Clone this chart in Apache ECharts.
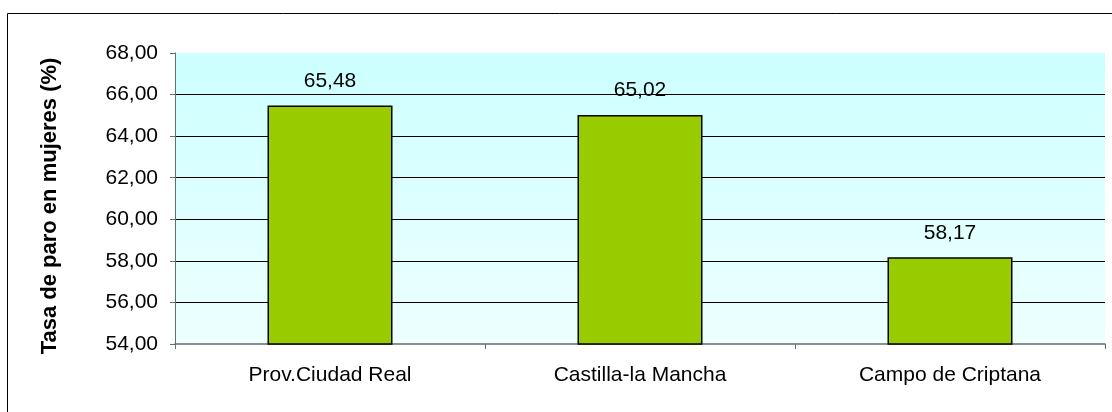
<!DOCTYPE html>
<html>
<head>
<meta charset="utf-8">
<script src="https://cdn.jsdelivr.net/npm/echarts@6/dist/echarts.min.js"></script>
<style>
  html, body { margin: 0; padding: 0; background: #fff; }
  #chart { width: 1112px; height: 412px; }
</style>
</head>
<body>
<div id="chart"></div>
<script>
// datos
const categories = ['Prov.Ciudad Real', 'Castilla-la Mancha', 'Campo de Criptana']
const tasaParo = [65.48, 65.02, 58.17]
const yMin = 54
const yMax = 68
const yStep = 2
const yTitle = 'Tasa de paro en mujeres (%)'

const fmt = v => Number(v).toFixed(2).replace('.', ',')
const font = '"Liberation Sans", Arial, sans-serif'

const chart = echarts.init(document.getElementById('chart'))
chart.setOption({
  backgroundColor: '#fff',
  animation: false,
  graphic: [
    // marco exterior (solo se ven los bordes izquierdo y superior)
    { type: 'line', shape: { x1: 7.5, y1: 13.5, x2: 1112, y2: 13.5 }, style: { stroke: '#000', lineWidth: 1 } },
    { type: 'line', shape: { x1: 7.5, y1: 13.5, x2: 7.5, y2: 412 }, style: { stroke: '#000', lineWidth: 1 } },
    // titulo del eje Y
    {
      type: 'text', x: 50, y: 206, rotation: Math.PI / 2,
      style: {
        text: yTitle, fill: '#000', font: 'bold 22px ' + font,
        align: 'center', verticalAlign: 'middle'
      }
    }
  ],
  grid: {
    left: 175, right: 7, top: 53, bottom: 68,
    show: true,
    borderWidth: 0,
    backgroundColor: new echarts.graphic.LinearGradient(0, 0, 0, 1, [
      { offset: 0, color: '#CCFFFF' },
      { offset: 1, color: '#EEFFFF' }
    ])
  },
  xAxis: {
    type: 'category',
    data: categories,
    axisLine: { lineStyle: { color: '#5f7070', width: 1.5 } },
    axisTick: { show: true, length: 5, lineStyle: { color: '#5f7070' } },
    axisLabel: { color: '#000', fontSize: 21, fontFamily: font, margin: 21 }
  },
  yAxis: {
    type: 'value',
    min: yMin, max: yMax, interval: yStep,
    axisLine: { show: true, lineStyle: { color: '#5f7070', width: 1 } },
    axisTick: { show: true, length: 5, lineStyle: { color: '#5f7070' } },
    axisLabel: { color: '#000', fontSize: 21, fontFamily: font, margin: 17, formatter: fmt },
    splitLine: { show: true, showMinLine: false, showMaxLine: false, lineStyle: { color: '#000', width: 1 } }
  },
  series: [{
    type: 'bar',
    data: tasaParo,
    barWidth: 125,
    itemStyle: { color: '#99CC00', borderColor: '#000', borderWidth: 1.5 },
    label: {
      show: true, position: 'top', distance: 14,
      color: '#000', fontSize: 21, fontFamily: font,
      formatter: p => fmt(p.value)
    }
  }]
})
</script>
</body>
</html>
